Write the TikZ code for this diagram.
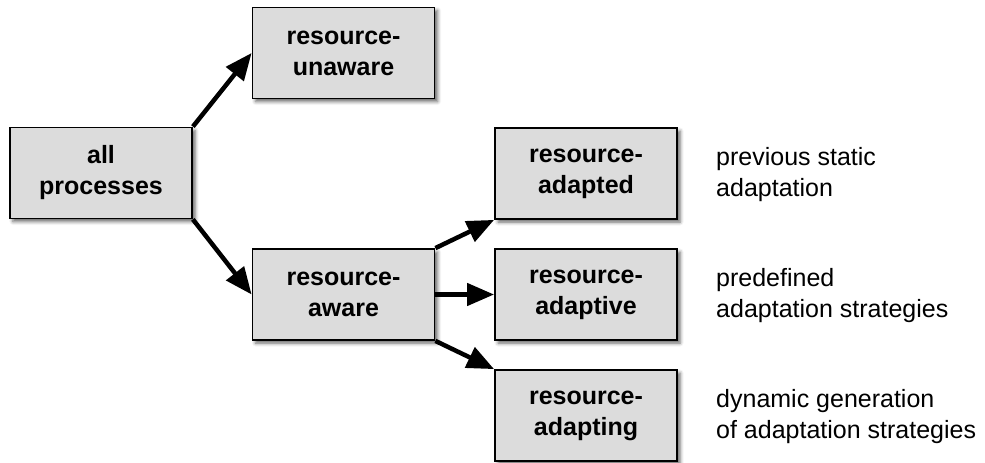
\documentclass[tikz,border=0pt]{standalone}
\usepackage{fontspec}
\setmainfont{Liberation Sans}
\usetikzlibrary{arrows.meta,shadows.blur}
\definecolor{boxgray}{RGB}{220,220,220}
\tikzset{
  procbox/.style={draw=black, line width=1.8pt, fill=boxgray,
    minimum width=182pt, minimum height=91pt, inner sep=0pt,
    align=center, font=\fontsize{25pt}{31pt}\selectfont\bfseries,
    blur shadow={shadow xshift=3pt, shadow yshift=-3pt,
      shadow blur radius=3.5pt, shadow opacity=60}},
  note/.style={anchor=west, align=left, inner sep=0pt,
    font=\fontsize{25pt}{31pt}\selectfont},
  flow/.style={line width=4.5pt, -{Triangle[length=27pt,width=22pt]}}
}
\begin{document}
\begin{tikzpicture}[x=1pt, y=-1pt]
  \useasboundingbox (0,0) rectangle (985,463);

  % process classes
  \node[procbox] (all)      at (101,173)    {all\\processes};
  \node[procbox] (unaware)  at (343.5,53)   {resource-\\unaware};
  \node[procbox] (aware)    at (343.5,294.5) {resource-\\aware};
  \node[procbox] (adapted)  at (586,173.5)  {resource-\\adapted};
  \node[procbox] (adaptive) at (586,294.5)  {resource-\\adaptive};
  \node[procbox] (adapting) at (586,415.5)  {resource-\\adapting};

  % descriptions
  \node[note] (dadapted)  at (716,174.5) {previous static\\adaptation};
  \node[note] (dadaptive) at (716,295.5) {predefined\\adaptation strategies};
  \node[note] (dadapting) at (716,416.5) {dynamic generation\\of adaptation strategies};

  % refinement arrows
  \draw[flow] (all.north east) -- (unaware.west);
  \draw[flow] (all.south east) -- (aware.west);
  \draw[flow] (aware.north east) -- (adapted.south west);
  \draw[flow] (aware.east) -- (adaptive.west);
  \draw[flow] (aware.south east) -- (adapting.north west);
\end{tikzpicture}
\end{document}
